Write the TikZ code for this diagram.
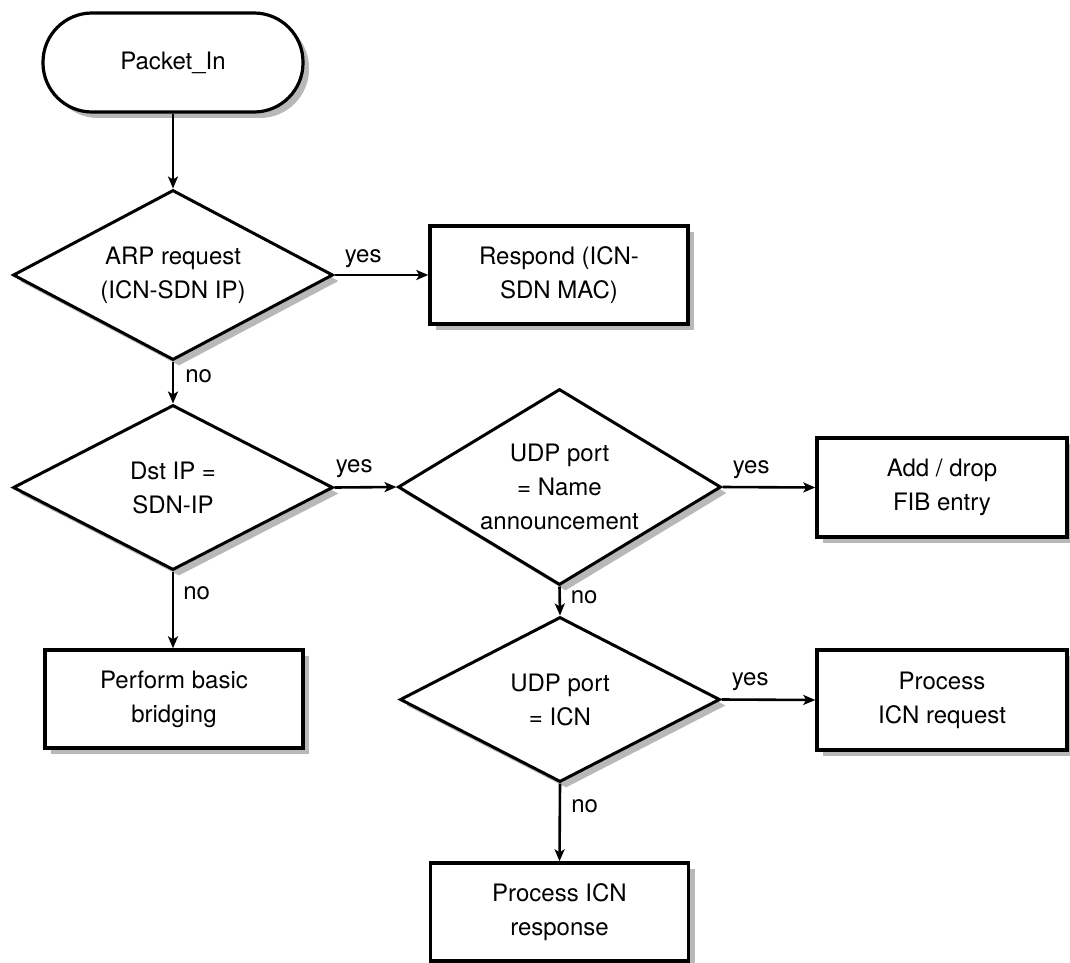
\documentclass[tikz,border=0pt]{standalone}
\usepackage{fontspec}
\setmainfont{TeX Gyre Heros}
\usetikzlibrary{shapes.geometric,shadows,arrows.meta}
\begin{document}
\begin{tikzpicture}[x=1pt,y=-1pt,
  every node/.style={font=\fontsize{24}{34}\selectfont},
  shad/.style={drop shadow={shadow xshift=6pt,shadow yshift=-6pt,fill=black!28,opacity=1}},
  term/.style={draw,line width=3.2pt,fill=white,shad,rounded corners=49pt,minimum width=260pt,minimum height=99pt,inner sep=0pt,align=center},
  procbox/.style={draw,line width=3.4pt,fill=white,shad,minimum width=258pt,minimum height=98pt,inner sep=0pt,align=center},
  dec/.style={draw,diamond,line width=3pt,fill=white,shad,minimum width=320pt,inner sep=0pt},
  dtext/.style={align=center,inner sep=0pt},
  arr/.style={line width=2.6pt,-{Stealth[length=12pt,width=10pt,inset=3pt]}},
  lbl/.style={inner sep=0pt,anchor=base west}
]
\useasboundingbox (0,0) rectangle (1070,963);

\node[term] (t) at (173,62.5) {Packet\_In};

\node[dec,minimum height=170pt] (d1) at (173,275) {};
\node[dtext] (d1t) at (d1.center) {ARP request\\(ICN-SDN IP)};

\node[procbox] (r1) at (559,275) {Respond (ICN-\\SDN MAC)};

\node[dec,minimum height=165pt] (d2) at (173,487.5) {};
\node[dtext] (d2t) at (d2.center) {Dst IP =\\SDN-IP};

\node[dec,minimum height=196pt,minimum width=323pt] (d3) at (559.5,487) {};
\node[dtext] (d3t) at (d3.center) {UDP port\\= Name\\announcement};

\node[procbox,minimum width=250pt,minimum height=99pt] (fib) at (942,487.5) {Add / drop\\FIB entry};

\node[procbox] (br) at (174,699) {Perform basic\\bridging};

\node[dec,minimum height=165pt] (d4) at (560,699.5) {};
\node[dtext] (d4t) at (d4.center) {UDP port\\= ICN};

\node[procbox,minimum width=250pt,minimum height=100pt] (req) at (942,700) {Process\\ICN request};

\node[procbox] (resp) at (559.5,912) {Process ICN\\response};

\draw[arr] (t.south) -- (d1.north);
\draw[arr] (d1.east) -- (r1.west) node[lbl,pos=0,xshift=9pt,yshift=13pt] (l1) {yes};
\draw[arr] (d1.south) -- (d2.north) node[lbl,pos=0,xshift=11pt,yshift=-21pt] (l2) {no};
\draw[arr] (d2.east) -- (d3.west) node[lbl,pos=0,xshift=0pt,yshift=15pt] (l3) {yes};
\draw[arr] (d3.east) -- (fib.west) node[lbl,pos=0,xshift=9pt,yshift=14pt] (l4) {yes};
\draw[arr] (d2.south) -- (d2.south |- br.north) node[lbl,pos=0,xshift=9pt,yshift=-28pt] (l5) {no};
\draw[arr] (d3.south) -- (d4.north) node[lbl,pos=0,xshift=10pt,yshift=-17pt] (l6) {no};
\draw[arr] (d4.east) -- (req.west) node[lbl,pos=0,xshift=9pt,yshift=14pt] (l7) {yes};
\draw[arr] (d4.south) -- (resp.north) node[lbl,pos=0,xshift=10pt,yshift=-29pt] (l8) {no};
\end{tikzpicture}
\end{document}
